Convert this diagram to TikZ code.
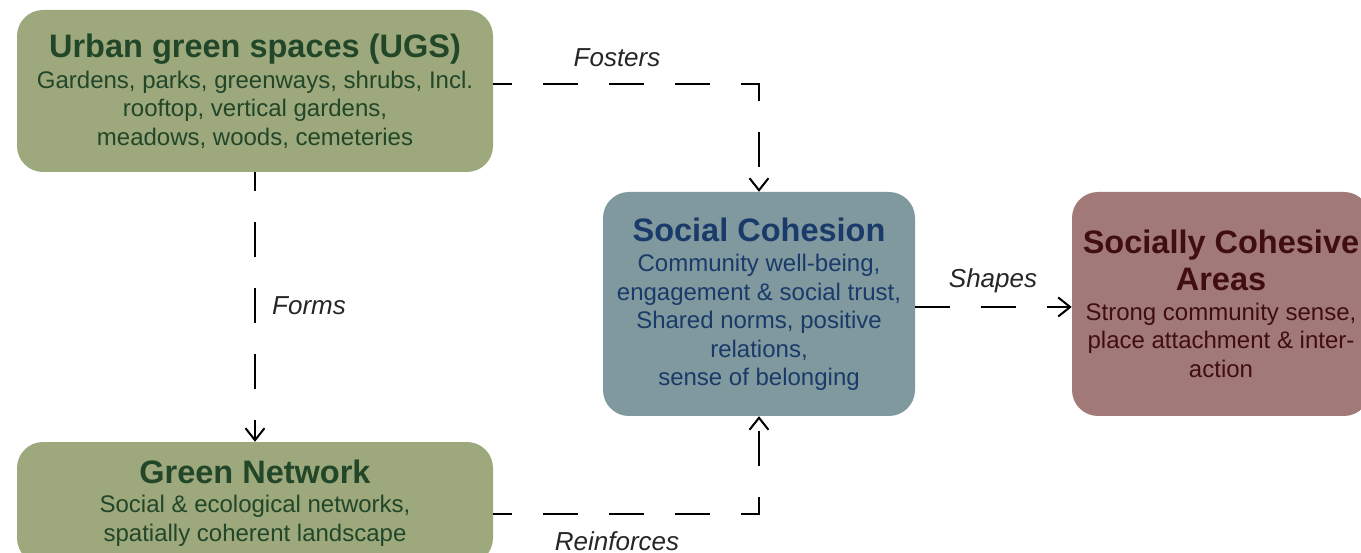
\documentclass[tikz,border=0pt]{standalone}
\usepackage{fontspec}
\setmainfont{Liberation Sans}
\usetikzlibrary{arrows.meta}

\definecolor{ugsfill}{RGB}{157,168,124}
\definecolor{ugstext}{RGB}{33,70,40}
\definecolor{cohfill}{RGB}{127,153,158}
\definecolor{cohtext}{RGB}{26,58,105}
\definecolor{areafill}{RGB}{161,121,119}
\definecolor{areatext}{RGB}{64,14,14}

\tikzset{
  box/.style={rounded corners=26pt, inner sep=0pt, align=center,
    font=\fontsize{24}{28.5}\selectfont},
  link/.style={line width=2pt, dash pattern=on 35pt off 31pt, dash phase=16pt,
    -{Straight Barb[length=12pt,width=19pt,line width=2pt]}},
  lbl/.style={font=\fontsize{26}{30}\selectfont\itshape, inner sep=0pt, text=black!85},
}
\newcommand\boxtitle[1]{{\fontsize{32.5}{37}\selectfont\bfseries #1}}

\begin{document}
\begin{tikzpicture}[x=1pt,y=-1pt]
  \useasboundingbox (0,0) rectangle (1361,553);

  % boxes
  \node[box, fill=ugsfill, text=ugstext, minimum width=476pt, minimum height=162pt]
    (ugs) at (255,91)
    {\boxtitle{Urban green spaces (UGS)}\\[2.5pt]
     Gardens, parks, greenways, shrubs, Incl.\\
     rooftop, vertical gardens,\\
     meadows, woods, cemeteries};

  \node[box, fill=ugsfill, text=ugstext, minimum width=476pt, minimum height=122pt]
    (net) at (255,503)
    {\boxtitle{Green Network}\\[1pt]
     Social \& ecological networks,\\
     spatially coherent landscape};

  \node[box, fill=cohfill, text=cohtext, minimum width=312pt, minimum height=224pt]
    (coh) at (759,304)
    {\boxtitle{Social Cohesion}\\[2pt]
     Community well-being,\\
     engagement \& social trust,\\
     Shared norms, positive\\
     relations,\\
     sense of belonging};

  \node[box, fill=areafill, text=areatext, minimum width=298pt, minimum height=224pt]
    (area) at (1221,304)
    {\boxtitle{Socially Cohesive}\\[7pt]
     \boxtitle{Areas}\\[1pt]
     Strong community sense,\\
     place attachment \& inter-\\
     action};

  % connectors
  \draw[link] ([yshift=7pt]ugs.east) -| (coh.north);
  \draw[link] (ugs.south) -- (net.north);
  \draw[link] ([yshift=-11pt]net.east) -| (coh.south);
  \draw[link, dash phase=0pt] ([yshift=-3pt]coh.east) -- ([yshift=-3pt]area.west);

  % connector labels
  \node[lbl] (lfosters) at (617,58) {Fosters};
  \node[lbl, anchor=west] (lforms) at (272,306) {Forms};
  \node[lbl] (lreinf) at (617,541) {Reinforces};
  \node[lbl] (lshapes) at (993,281) {Shapes};
\end{tikzpicture}
\end{document}
